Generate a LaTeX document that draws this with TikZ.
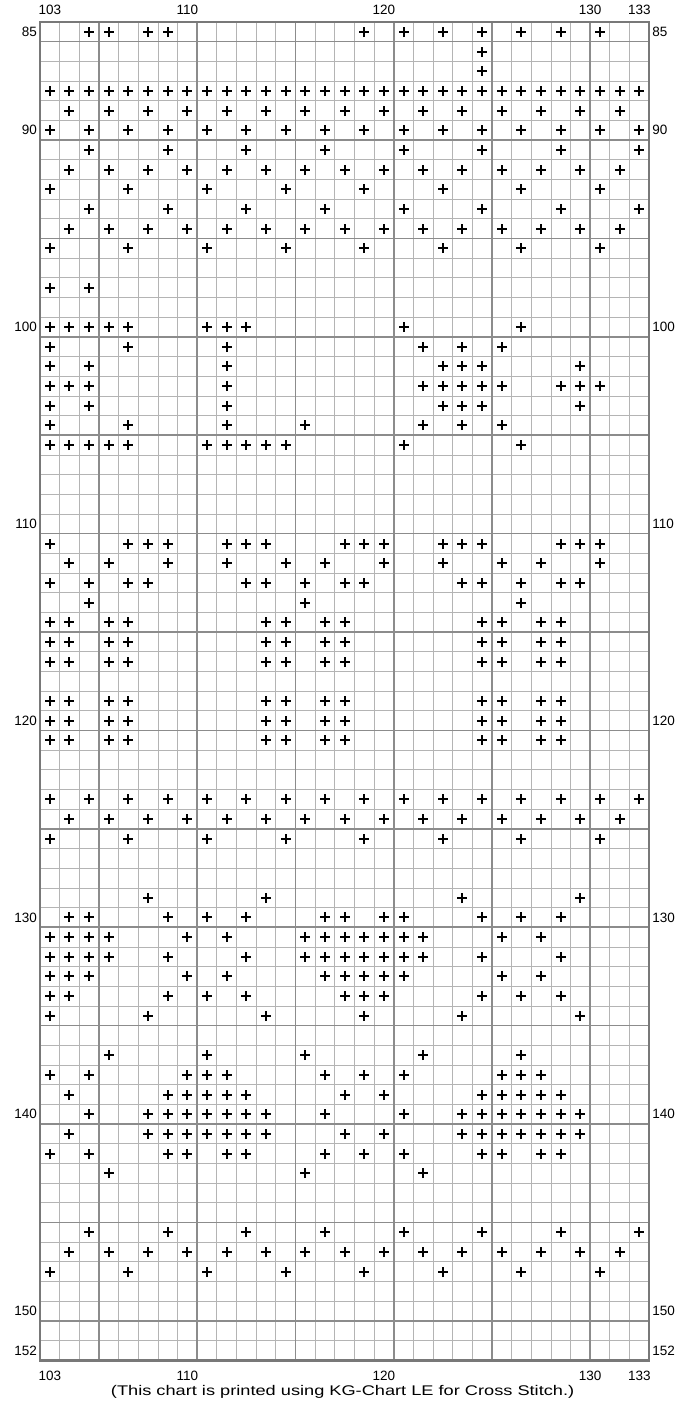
\documentclass[tikz,border=0pt]{standalone}
\usepackage{fontspec}
\usepackage{graphicx}
\setmainfont{Liberation Sans}
\definecolor{thingray}{HTML}{B4B4B4}
\definecolor{thickgray}{HTML}{8C8C8C}
\definecolor{bordergray}{HTML}{787878}
\tikzset{
  thinline/.style={draw=thingray, line width=0.8pt},
  fiveline/.style={draw=thickgray, line width=1.6pt},
  borderline/.style={draw=bordergray, line width=2.6pt},
  stitch/.style={draw=black, line width=2pt},
  numlabel/.style={font=\fontsize{13.5}{15}\selectfont, text=black, inner sep=0pt},
  footer/.style={font=\fontsize{14}{16}\selectfont, text=black, inner sep=0pt}
}
\begin{document}
\begin{tikzpicture}[x=19.65pt, y=-19.68pt]
\useasboundingbox (-40pt,22pt) rectangle (638pt,-1381pt);
% thin grid
\foreach \i in {1,...,30} \draw[thinline] (\i,0) -- (\i,68);
\foreach \j in {1,...,67} \draw[thinline] (0,\j) -- (31,\j);
% five-lines
\foreach \i in {3,8,13,18,23,28} \draw[fiveline] (\i,0) -- (\i,68);
\foreach \j in {1,6,...,66} \draw[fiveline] (0,\j) -- (31,\j);
% border
\draw[borderline] (0,0) rectangle (31,68);
% stitches
\foreach \r/\cl in {
  85/{105,106,108,109,119,121,123,125,127,129,131},
  86/{125}, 87/{125},
  88/{103,...,133},
  89/{104,106,...,132},
  90/{103,105,...,133},
  91/{105,109,...,133},
  92/{104,106,...,132},
  93/{103,107,...,131},
  94/{105,109,...,133},
  95/{104,106,...,132},
  96/{103,107,...,131},
  98/{103,105},
  100/{103,104,105,106,107,111,112,113,121,127},
  101/{103,107,112,122,124,126},
  102/{103,105,112,123,124,125,130},
  103/{103,104,105,112,122,123,124,125,126,129,130,131},
  104/{103,105,112,123,124,125,130},
  105/{103,107,112,116,122,124,126},
  106/{103,104,105,106,107,111,112,113,114,115,121,127},
  111/{103,107,108,109,112,113,114,118,119,120,123,124,125,129,130,131},
  112/{104,106,109,112,115,117,120,123,126,128,131},
  113/{103,105,107,108,113,114,116,118,119,124,125,127,129,130},
  114/{105,116,127},
  115/{103,104,106,107,114,115,117,118,125,126,128,129},
  116/{103,104,106,107,114,115,117,118,125,126,128,129},
  117/{103,104,106,107,114,115,117,118,125,126,128,129},
  119/{103,104,106,107,114,115,117,118,125,126,128,129},
  120/{103,104,106,107,114,115,117,118,125,126,128,129},
  121/{103,104,106,107,114,115,117,118,125,126,128,129},
  124/{103,105,...,133},
  125/{104,106,...,132},
  126/{103,107,...,131},
  129/{108,114,124,130},
  130/{104,105,109,111,113,117,118,120,121,125,127,129},
  131/{103,104,105,106,110,112,116,117,118,119,120,121,122,126,128},
  132/{103,104,105,106,109,113,116,117,118,119,120,121,122,125,129},
  133/{103,104,105,110,112,117,118,119,120,121,126,128},
  134/{103,104,109,111,113,118,119,120,125,127,129},
  135/{103,108,114,119,124,130},
  137/{106,111,116,122,127},
  138/{103,105,110,111,112,117,119,121,126,127,128},
  139/{104,109,110,111,112,113,118,120,125,126,127,128,129},
  140/{105,108,109,110,111,112,113,114,117,121,124,125,126,127,128,129,130},
  141/{104,108,109,110,111,112,113,114,118,120,124,125,126,127,128,129,130},
  142/{103,105,109,110,112,113,117,119,121,125,126,128,129},
  143/{106,116,122},
  146/{105,109,...,133},
  147/{104,106,...,132},
  148/{103,107,...,131}%
}{
  \foreach \c in \cl {
    \pgfmathsetmacro\px{round((\c-102.5)*19.65)}
    \pgfmathsetmacro\py{round((\r-84.5)*19.68)}
    \draw[stitch] (\px pt,-\py pt) +(-5pt,0) -- +(5pt,0) +(0,-5pt) -- +(0,5pt);
  }
}
% row labels
\foreach \r in {85,90,100,110,120,130,140,150,152} {
  \node[numlabel, anchor=east] (left\r) at (-0.15,\r-84.5) {\r};
  \node[numlabel, anchor=west] (right\r) at (31.15,\r-84.5) {\r};
}
% column labels
\foreach \c/\xx in {103/0.5,110/7.5,120/17.5,130/28.0,133/30.5} {
  \node[numlabel] (top\c) at (\xx,-0.6) {\c};
  \node[numlabel] (bot\c) at (\xx,68.8) {\c};
}
\node[footer] (note) at (15.4,69.6) {\scalebox{1.3}[1]{(This chart is printed using KG-Chart LE for Cross Stitch.)}};
\end{tikzpicture}
\end{document}
